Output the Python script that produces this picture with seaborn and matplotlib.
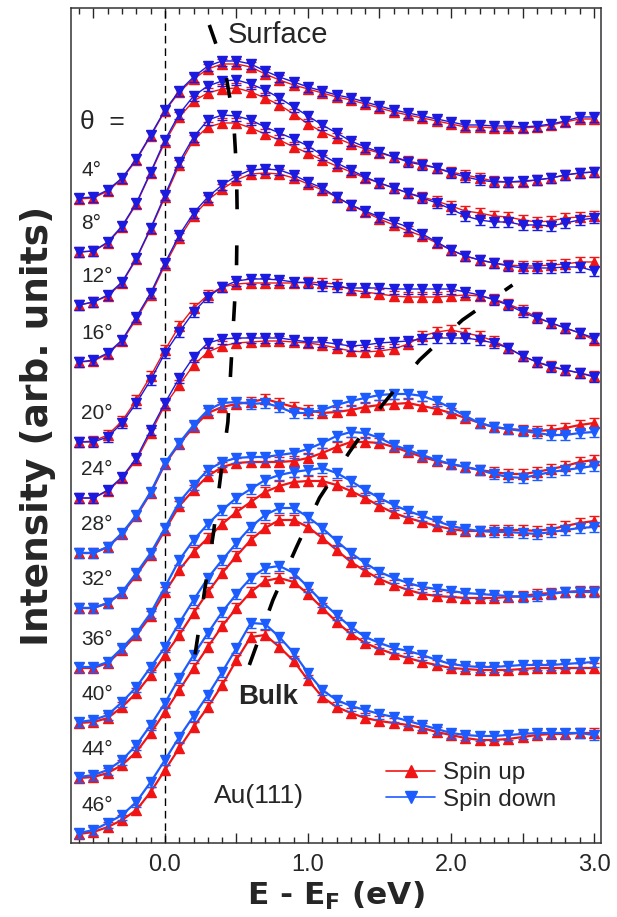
import numpy as np
import matplotlib
matplotlib.use("Agg")
import matplotlib.pyplot as plt
from matplotlib.lines import Line2D
from matplotlib.ticker import MultipleLocator, FuncFormatter
import seaborn as sns

# photon energy grid (eV), 0.1 eV steps
energy = np.linspace(-0.6, 3.0, 37)

angles = ["4°", "8°", "12°", "16°", "20°", "24°", "28°", "32°", "36°", "40°", "44°", "46°"]

# stacked intensities (arb. units), spin up / spin down for each emission angle
spin_up = [
    [801, 802, 809, 821, 840, 864, 889, 908, 921, 931, 936, 936, 933, 926, 920, 915, 911, 907, 903, 900, 896, 892, 888, 885, 882, 879, 876, 873, 873, 872, 872, 872, 873, 875, 878, 881, 881],
    [748, 749, 757, 773, 796, 827, 858, 883, 899, 907, 911, 912, 908, 902, 895, 886, 876, 868, 862, 856, 851, 847, 843, 839, 836, 832, 828, 825, 822, 819, 818, 818, 820, 822, 825, 827, 828],
    [695, 698, 704, 717, 741, 771, 803, 835, 860, 873, 877, 877, 872, 866, 860, 853, 847, 840, 834, 828, 822, 817, 812, 807, 803, 799, 794, 789, 787, 784, 783, 780, 778, 779, 782, 783, 784],
    [638, 639, 646, 659, 681, 705, 735, 762, 784, 800, 811, 820, 826, 827, 826, 822, 816, 810, 803, 795, 788, 781, 775, 769, 764, 757, 750, 744, 740, 737, 735, 734, 734, 735, 736, 738, 738],
    [558, 559, 565, 579, 600, 624, 650, 674, 692, 705, 713, 716, 717, 717, 717, 717, 718, 717, 716, 710, 708, 706, 704, 703, 703, 703, 704, 705, 704, 701, 696, 690, 683, 677, 672, 667, 660],
    [502, 502, 509, 522, 540, 567, 595, 615, 635, 648, 654, 657, 658, 659, 659, 658, 657, 655, 652, 649, 648, 649, 651, 656, 664, 668, 670, 667, 664, 659, 652, 644, 638, 634, 630, 627, 624],
    [447, 447, 453, 466, 484, 507, 536, 556, 573, 587, 593, 596, 598, 601, 597, 593, 590, 587, 588, 590, 593, 595, 596, 597, 594, 591, 587, 582, 577, 573, 571, 570, 569, 570, 572, 575, 577],
    [392, 392, 397, 407, 425, 445, 470, 494, 510, 524, 533, 537, 538, 538, 538, 539, 542, 547, 553, 558, 558, 557, 553, 548, 543, 539, 536, 533, 530, 528, 526, 526, 528, 531, 534, 538, 540],
    [332, 332, 337, 350, 365, 384, 408, 430, 448, 462, 476, 488, 498, 508, 514, 518, 519, 519, 515, 509, 502, 494, 487, 482, 478, 474, 471, 469, 469, 470, 470, 470, 469, 471, 474, 477, 479],
    [277, 278, 282, 293, 307, 325, 345, 365, 387, 408, 427, 444, 460, 472, 480, 480, 473, 462, 450, 438, 429, 421, 415, 410, 406, 404, 403, 402, 402, 402, 403, 404, 406, 407, 408, 409, 409],
    [222, 223, 227, 235, 248, 267, 288, 310, 332, 353, 374, 392, 408, 419, 422, 418, 406, 392, 378, 366, 357, 351, 346, 342, 338, 335, 332, 331, 330, 330, 330, 331, 332, 332, 332, 332, 332],
    [166, 168, 173, 180, 190, 208, 230, 252, 273, 293, 315, 340, 363, 365, 353, 339, 320, 303, 293, 287, 282, 279, 277, 275, 272, 268, 265, 262, 260, 260, 261, 263, 265, 266, 266, 267, 267],
]
spin_down = [
    [802, 803, 810, 822, 841, 865, 890, 909, 923, 934, 939, 939, 936, 929, 923, 918, 913, 909, 905, 902, 898, 894, 890, 887, 884, 881, 878, 875, 875, 874, 874, 873, 874, 876, 879, 883, 883],
    [748, 749, 758, 774, 797, 828, 860, 886, 904, 914, 919, 920, 916, 910, 902, 893, 884, 875, 867, 859, 853, 848, 843, 838, 835, 832, 827, 823, 820, 818, 818, 819, 820, 822, 825, 827, 828],
    [695, 698, 705, 718, 742, 772, 805, 838, 863, 880, 885, 884, 880, 873, 867, 861, 854, 845, 837, 830, 823, 817, 812, 807, 802, 797, 791, 784, 780, 778, 778, 775, 775, 774, 777, 780, 782],
    [638, 640, 647, 660, 683, 707, 737, 765, 787, 803, 815, 824, 830, 831, 830, 825, 818, 812, 803, 795, 789, 783, 778, 773, 766, 758, 750, 744, 740, 737, 734, 732, 732, 732, 733, 733, 729],
    [558, 558, 563, 577, 597, 620, 647, 668, 688, 703, 713, 719, 721, 721, 720, 718, 717, 714, 713, 712, 712, 712, 711, 711, 711, 711, 711, 708, 705, 700, 695, 688, 682, 677, 672, 667, 662],
    [502, 502, 510, 523, 542, 570, 597, 622, 643, 657, 661, 662, 662, 662, 662, 660, 658, 658, 656, 654, 655, 657, 658, 659, 661, 662, 662, 662, 660, 657, 652, 644, 638, 633, 630, 627, 623],
    [447, 447, 453, 467, 485, 508, 537, 557, 575, 590, 597, 598, 596, 597, 593, 587, 587, 590, 595, 599, 602, 605, 606, 606, 604, 599, 592, 584, 577, 573, 571, 569, 567, 565, 565, 567, 568],
    [392, 392, 397, 408, 427, 447, 472, 498, 515, 530, 538, 542, 543, 543, 545, 547, 551, 557, 564, 568, 567, 562, 555, 550, 545, 540, 536, 533, 530, 526, 523, 522, 525, 528, 530, 532, 534],
    [333, 333, 338, 352, 367, 387, 413, 440, 460, 476, 490, 502, 511, 520, 525, 528, 530, 532, 527, 519, 510, 502, 495, 489, 484, 479, 474, 471, 469, 468, 468, 467, 466, 468, 470, 472, 473],
    [278, 280, 285, 298, 313, 333, 353, 377, 400, 422, 440, 457, 473, 485, 492, 492, 483, 472, 459, 447, 437, 428, 422, 417, 413, 411, 409, 407, 406, 405, 404, 403, 404, 406, 408, 408, 408],
    [223, 225, 230, 240, 255, 275, 297, 322, 345, 367, 388, 406, 422, 432, 434, 427, 413, 398, 385, 373, 363, 357, 352, 349, 345, 340, 336, 334, 333, 333, 334, 335, 335, 335, 336, 337, 338],
    [167, 170, 177, 185, 198, 218, 240, 263, 284, 305, 328, 352, 377, 376, 363, 347, 327, 310, 300, 294, 290, 286, 283, 279, 275, 271, 267, 265, 264, 264, 265, 266, 267, 267, 267, 267, 265],
]
err = 5

# guide lines for the dispersing features
surface_x = [0.31, 0.42, 0.48, 0.50, 0.505, 0.50, 0.48, 0.46, 0.44, 0.39, 0.34, 0.28, 0.21]
surface_y = [975, 930, 880, 830, 785, 730, 680, 630, 578, 525, 468, 412, 345]
bulk_x = [0.59, 0.755, 0.92, 1.08, 1.29, 1.52, 1.78, 2.08, 2.43]
bulk_y = [335, 400, 453, 502, 548, 595, 640, 680, 715]

sns.set_style("ticks")
plt.rcParams["font.family"] = ["Liberation Sans", "DejaVu Sans"]

red = "#f01414"
dark_blue = "#1a1ae0"
light_blue = "#1c5cff"

fig = plt.figure(figsize=(6.17, 9.17), dpi=100)
ax = fig.add_axes([0.1151, 0.0807, 0.859, 0.9106])

for i, name in enumerate(angles):
    blue = dark_blue if i < 6 else light_blue
    lw = 1.0 if i < 6 else 1.6
    up = np.array(spin_up[i])
    down = np.array(spin_down[i])
    ax.errorbar(energy, up, yerr=err, fmt="none", ecolor=red, elinewidth=1, capsize=3.5, zorder=2)
    sns.lineplot(x=energy, y=up, ax=ax, color=red, marker="^", markersize=7.5,
                 markeredgecolor=red, linewidth=lw, zorder=3)
    ax.errorbar(energy, down, yerr=err, fmt="none", ecolor=blue, elinewidth=1, capsize=3.5, zorder=4)
    sns.lineplot(x=energy, y=down, ax=ax, color=blue, marker="v", markersize=7.5,
                 markeredgecolor=blue, linewidth=lw, zorder=5)
    ax.text(-0.585, up[0] + 28, name, fontsize=15, ha="left", va="center")

ax.axvline(0, color="black", lw=1, dashes=(5.5, 3.5), zorder=1)
ax.plot(surface_x, surface_y, color="black", lw=2.6, dashes=(5.5, 10), zorder=6)
ax.plot(bulk_x, bulk_y, color="black", lw=2.6, dashes=(6, 10), zorder=6)

ax.text(-0.595, 878, "θ  =", fontsize=19, ha="left", va="center")
ax.text(0.44, 965, "Surface", fontsize=21, ha="left", va="center")
ax.text(0.72, 303, "Bulk", fontsize=20, fontweight="bold", ha="center", va="center")
ax.text(0.66, 204, "Au(111)", fontsize=19, ha="center", va="center")

handles = [
    Line2D([], [], color=red, marker="^", markersize=8, lw=1.2, label="Spin up"),
    Line2D([], [], color=light_blue, marker="v", markersize=8, lw=1.2, label="Spin down"),
]
ax.legend(handles=handles, loc="upper left", bbox_to_anchor=(0.595, 0.097), frameon=False,
          fontsize=17.5, handlelength=2.0, handletextpad=0.35, labelspacing=0.2,
          borderaxespad=0, borderpad=0)

ax.set_xlim(-0.657, 3.049)
ax.set_ylim(157, 992)
ax.xaxis.set_major_locator(MultipleLocator(0.5))
ax.xaxis.set_minor_locator(MultipleLocator(0.1))
ax.xaxis.set_major_formatter(FuncFormatter(lambda v, p: f"{v:.1f}" if abs(v - round(v)) < 1e-6 else ""))
ax.tick_params(axis="x", which="both", direction="in", top=True, labelsize=17, pad=8)
ax.tick_params(axis="x", which="major", length=7, width=1)
ax.tick_params(axis="x", which="minor", length=4, width=1)
ax.set_yticks([])
for s in ax.spines.values():
    s.set_linewidth(1.1)
    s.set_color("#333333")

ax.set_xlabel(r"E - E$_\mathbf{F}$ (eV)", fontsize=22.5, fontweight="bold", labelpad=3,
              family="DejaVu Sans")
ax.set_ylabel("Intensity (arb. units)", fontsize=27, fontweight="bold", labelpad=11,
              family="DejaVu Sans")

fig.savefig("out.png", dpi=100)
